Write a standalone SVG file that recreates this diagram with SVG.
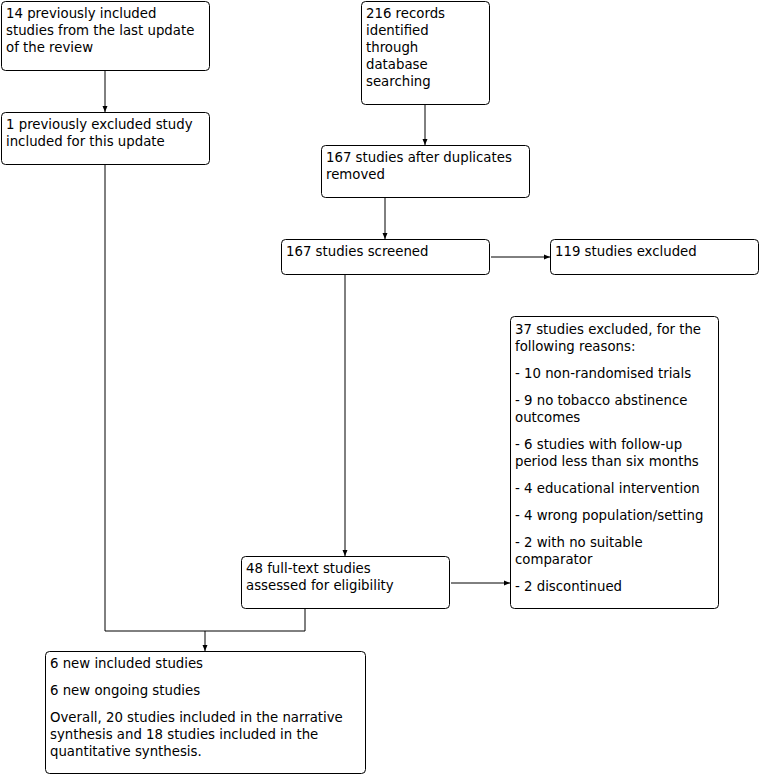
<svg xmlns="http://www.w3.org/2000/svg" width="760" height="775" viewBox="0 0 760 775">
<style>
.box{fill:#fff;stroke:#000;stroke-width:1}
.t{font-family:"DejaVu Sans",Verdana,sans-serif;font-size:13.3px;fill:#000}
.c{fill:none;stroke:#000;stroke-width:1}
</style>
<defs>
<marker id="ah" viewBox="0 0 6 6" refX="6" refY="3" markerWidth="6" markerHeight="6" markerUnits="userSpaceOnUse" orient="auto">
<path d="M0,0.5 L6,3 L0,5.5 Z" fill="#000"/>
</marker>
</defs>
<rect width="760" height="775" fill="#fff"/>
<g id="connectors">
<line class="c" x1="105" y1="70" x2="105" y2="112" marker-end="url(#ah)"/>
<line class="c" x1="425" y1="104" x2="425" y2="145" marker-end="url(#ah)"/>
<line class="c" x1="385" y1="198" x2="385" y2="239" marker-end="url(#ah)"/>
<line class="c" x1="491" y1="257" x2="550" y2="257" marker-end="url(#ah)"/>
<line class="c" x1="345" y1="275" x2="345" y2="556" marker-end="url(#ah)"/>
<line class="c" x1="451" y1="583" x2="510" y2="583" marker-end="url(#ah)"/>
<polyline class="c" points="105,164 105,631 305,631 305,609"/>
<line class="c" x1="205" y1="631" x2="205" y2="651" marker-end="url(#ah)"/>
</g>
<g id="n1">
<rect class="box" x="1.5" y="1.5" width="208" height="69" rx="4"/>
<text class="t"><tspan x="6" y="18">14 previously included</tspan><tspan x="6" y="35">studies from the last update</tspan><tspan x="6" y="52">of the review</tspan></text>
</g>
<g id="n2">
<rect class="box" x="1.5" y="112.5" width="208" height="52" rx="4"/>
<text class="t"><tspan x="6" y="129">1 previously excluded study</tspan><tspan x="6" y="146">included for this update</tspan></text>
</g>
<g id="n3">
<rect class="box" x="361.5" y="1.5" width="128" height="103" rx="4"/>
<text class="t"><tspan x="366" y="18">216 records</tspan><tspan x="366" y="35">identified</tspan><tspan x="366" y="52">through</tspan><tspan x="366" y="69">database</tspan><tspan x="366" y="86">searching</tspan></text>
</g>
<g id="n4">
<rect class="box" x="321.5" y="145.5" width="208" height="52" rx="4"/>
<text class="t"><tspan x="326" y="162">167 studies after duplicates</tspan><tspan x="326" y="179">removed</tspan></text>
</g>
<g id="n5">
<rect class="box" x="281.5" y="239.5" width="208" height="35" rx="4"/>
<text class="t"><tspan x="286" y="256">167 studies screened</tspan></text>
</g>
<g id="n6">
<rect class="box" x="550.5" y="239.5" width="208" height="35" rx="4"/>
<text class="t"><tspan x="555" y="256">119 studies excluded</tspan></text>
</g>
<g id="n7">
<rect class="box" x="510.5" y="316.5" width="208" height="292" rx="4"/>
<text class="t"><tspan x="515" y="334">37 studies excluded, for the</tspan><tspan x="515" y="351">following reasons:</tspan><tspan x="515" y="378">- 10 non-randomised trials</tspan><tspan x="515" y="405">- 9 no tobacco abstinence</tspan><tspan x="515" y="422">outcomes</tspan><tspan x="515" y="449">- 6 studies with follow-up</tspan><tspan x="515" y="466">period less than six months</tspan><tspan x="515" y="493">- 4 educational intervention</tspan><tspan x="515" y="520">- 4 wrong population/setting</tspan><tspan x="515" y="547">- 2 with no suitable</tspan><tspan x="515" y="564">comparator</tspan><tspan x="515" y="591">- 2 discontinued</tspan></text>
</g>
<g id="n8">
<rect class="box" x="241.5" y="556.5" width="208" height="52" rx="4"/>
<text class="t"><tspan x="246" y="573">48 full-text studies</tspan><tspan x="246" y="590">assessed for eligibility</tspan></text>
</g>
<g id="n9">
<rect class="box" x="45.5" y="651.5" width="320" height="122" rx="4"/>
<text class="t"><tspan x="50" y="668">6 new included studies</tspan><tspan x="50" y="695">6 new ongoing studies</tspan><tspan x="50" y="722">Overall, 20 studies included in the narrative</tspan><tspan x="50" y="739">synthesis and 18 studies included in the</tspan><tspan x="50" y="756">quantitative synthesis.</tspan></text>
</g>
</svg>
